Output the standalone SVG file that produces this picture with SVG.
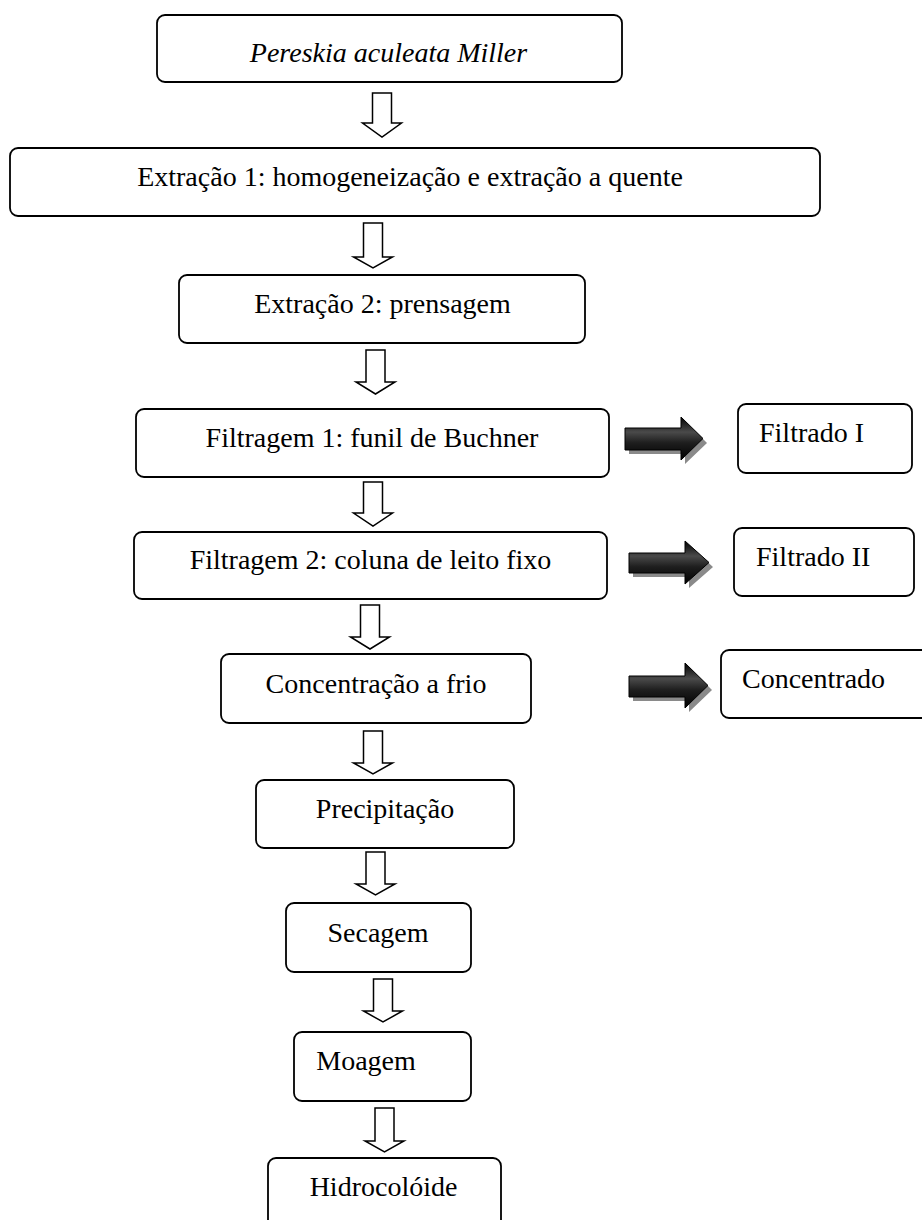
<svg xmlns="http://www.w3.org/2000/svg" width="922" height="1220" viewBox="0 0 922 1220">
<style>
.box{fill:#fff;stroke:#000;stroke-width:1.8}
.t{font-family:"Liberation Serif","Times New Roman",serif;font-size:28px;fill:#000;text-anchor:middle}
.ts{font-family:"Liberation Serif","Times New Roman",serif;font-size:28px;fill:#000}
.ha{fill:#fff;stroke:#000;stroke-width:1.5;stroke-linejoin:miter}
.da{fill:url(#dg);stroke:#000;stroke-width:1}
.sh{fill:#8a8a8a}
</style>
<defs>
<linearGradient id="dg" x1="0" y1="0" x2="0" y2="1">
<stop offset="0" stop-color="#000"/>
<stop offset="0.35" stop-color="#4a4a4a"/>
<stop offset="0.6" stop-color="#1e1e1e"/>
<stop offset="1" stop-color="#000"/>
</linearGradient>
</defs>
<rect width="922" height="1220" fill="#fff"/>

<g id="connectors">
<path class="ha" d="M372.5,93 H391.5 V123 H401.5 L382,137 L362.5,123 H372.5 Z"/>
<path class="ha" d="M363.5,223 H382.5 V257 H392.5 L373,268 L353.5,257 H363.5 Z"/>
<path class="ha" d="M366,350 H385 V382 H395 L375.5,394 L356,382 H366 Z"/>
<path class="ha" d="M363.5,482 H382.5 V513 H392.5 L373,526 L353.5,513 H363.5 Z"/>
<path class="ha" d="M360.5,605 H379.5 V637 H389.5 L370,649 L350.5,637 H360.5 Z"/>
<path class="ha" d="M363.5,731 H382.5 V763 H392.5 L373,774 L353.5,763 H363.5 Z"/>
<path class="ha" d="M366,852 H385 V884 H395 L375.5,895 L356,884 H366 Z"/>
<path class="ha" d="M373.5,979 H392.5 V1011 H402.5 L383,1022 L363.5,1011 H373.5 Z"/>
<path class="ha" d="M375,1108 H394 V1141 H404 L384.5,1152 L365,1141 H375 Z"/>

<polygon class="sh" points="629,432 685,432 685,421 707,443 685,464 685,454 629,454"/>
<polygon class="da" points="625,428 681,428 681,417 703,438.5 681,460 681,450 625,450"/>
<polygon class="sh" points="633,557 689,557 689,545 713,567 689,588 689,577 633,577"/>
<polygon class="da" points="629,553 685,553 685,541 709,562.5 685,584 685,573 629,573"/>
<polygon class="sh" points="633,680 689,680 689,667 712,690 689,712 689,701 633,701"/>
<polygon class="da" points="629,676 685,676 685,663 708,685.5 685,708 685,697 629,697"/>
</g>

<g id="n1"><rect class="box" x="157" y="15" width="465" height="67" rx="8"/><text class="t" x="388.5" y="62" font-style="italic">Pereskia aculeata Miller</text></g>
<g id="n2"><rect class="box" x="10" y="148" width="810" height="68" rx="8"/><text class="t" x="410" y="186">Extração 1: homogeneização e extração a quente</text></g>
<g id="n3"><rect class="box" x="179" y="275" width="406" height="68" rx="8"/><text class="t" x="382.5" y="313">Extração 2: prensagem</text></g>
<g id="n4"><rect class="box" x="136" y="409" width="473" height="68" rx="8"/><text class="t" x="372" y="447">Filtragem 1: funil de Buchner</text></g>
<g id="n5"><rect class="box" x="134" y="532" width="473" height="67" rx="8"/><text class="t" x="370.5" y="569">Filtragem 2: coluna de leito fixo</text></g>
<g id="n6"><rect class="box" x="221" y="654" width="310" height="69" rx="8"/><text class="t" x="376" y="693">Concentração a frio</text></g>
<g id="n7"><rect class="box" x="256" y="780" width="258" height="68" rx="8"/><text class="t" x="385" y="818">Precipitação</text></g>
<g id="n8"><rect class="box" x="286" y="903" width="185" height="69" rx="8"/><text class="t" x="378" y="942">Secagem</text></g>
<g id="n9"><rect class="box" x="294" y="1032" width="177" height="69" rx="8"/><text class="t" x="366" y="1070">Moagem</text></g>
<g id="n10"><rect class="box" x="268" y="1158" width="233" height="80" rx="8"/><text class="t" x="383.5" y="1196">Hidrocolóide</text></g>
<g id="f1"><rect class="box" x="738" y="404" width="174" height="69" rx="8"/><text class="ts" x="759" y="442">Filtrado I</text></g>
<g id="f2"><rect class="box" x="734" y="528" width="180" height="68" rx="8"/><text class="ts" x="756" y="566">Filtrado II</text></g>
<g id="f3"><rect class="box" x="721" y="650" width="215" height="68" rx="8"/><text class="ts" x="742" y="688">Concentrado</text></g>
</svg>
